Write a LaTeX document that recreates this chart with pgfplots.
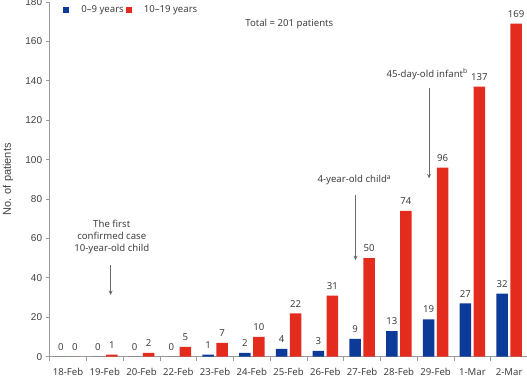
\documentclass[border=0pt]{standalone}
\usepackage{pgfplots}
\pgfplotsset{compat=1.18}
\usepackage{fontspec}
\setmainfont{Noto Sans}
\newfontfamily\arialfont{Liberation Sans}
\usetikzlibrary{arrows.meta}

\definecolor{barblue}{HTML}{0B3A99}
\definecolor{barred}{HTML}{E32B1E}
\definecolor{axisgray}{HTML}{9A9A9A}
\definecolor{textgray}{HTML}{404040}
\definecolor{arrowgray}{HTML}{6A6A6A}

\newcommand{\lblfont}{\fontsize{9.6bp}{11.5bp}\selectfont}

\begin{document}
\begin{tikzpicture}
\begin{axis}[
  scale only axis,
  width=478bp, height=354.7bp,
  xmin=-0.5, xmax=12.5,
  ymin=0, ymax=180,
  axis x line*=bottom,
  axis y line*=left,
  axis line style={draw=axisgray, line width=0.9bp},
  tick align=outside,
  major tick length=4bp,
  minor tick length=4bp,
  every tick/.style={draw=axisgray, line width=0.8bp},
  xtick={0,...,12},
  xticklabels={18-Feb,19-Feb,20-Feb,22-Feb,23-Feb,24-Feb,25-Feb,26-Feb,27-Feb,28-Feb,29-Feb,1-Mar,2-Mar},
  major x tick style={draw=none},
  minor xtick={-0.5,0.5,...,12.5},
  ytick={0,20,...,180},
  xticklabel style={font=\lblfont, text=textgray, yshift=-4bp},
  yticklabel style={font=\arialfont\fontsize{10bp}{12bp}\selectfont, text=textgray},
  /pgf/number format/assume math mode=true,
  ylabel={No. of patients},
  ylabel style={font=\arialfont\fontsize{11bp}{13bp}\selectfont, text=textgray,
    at={(axis description cs:-0.087,0.5)}, anchor=center},
  ybar=0pt,
  bar width=11.5bp,
  nodes near coords,
  every node near coord/.append style={font=\lblfont, text=textgray,
    anchor=south, inner sep=0pt, yshift=6bp},
  legend columns=2,
  legend style={draw=none, fill=none, font=\lblfont, text=textgray,
    at={(axis description cs:0.022,0.977)}, anchor=west,
    /tikz/every odd column/.append style={column sep=10bp}},
  legend image code/.code={\path[#1] (0bp,-3bp) rectangle (6bp,3bp);},
]

% 0-9 years
\addplot[fill=barblue, draw=none, bar shift=-7bp] coordinates {
  (0,0) (1,0) (2,0) (3,0) (4,1) (5,2) (6,4) (7,3) (8,9) (9,13) (10,19) (11,27) (12,32)
};
\addlegendentry{0–9 years}

% 10-19 years
\addplot[fill=barred, draw=none, bar shift=7bp] coordinates {
  (0,0) (1,1) (2,2) (3,5) (4,7) (5,10) (6,22) (7,31) (8,50) (9,74) (10,96) (11,137) (12,169)
};
\addlegendentry{10–19 years}

\node[font=\lblfont, text=textgray] at (axis cs:6.02,168.8) {Total = 201 patients};

\node[font=\lblfont, text=textgray, align=center, inner sep=0pt]
  at (axis cs:1.19,60.7) {The first\\[0.5bp]confirmed case\\[0.5bp]10-year-old child};
\node[font=\lblfont, text=textgray] at (axis cs:7.79,89.6) {4-year-old child\textsuperscript{a}};
\node[font=\lblfont, text=textgray] at (axis cs:9.77,143.5) {45-day-old infant\textsuperscript{b}};

\draw[arrowgray, line width=0.7bp, -{Stealth[length=4.5bp,width=4bp]}]
  (axis cs:1.16,46.5) -- (axis cs:1.16,31.3);
\draw[arrowgray, line width=0.7bp, -{Stealth[length=4.5bp,width=4bp]}]
  (axis cs:7.82,82) -- (axis cs:7.82,49);
\draw[arrowgray, line width=0.7bp, -{Stealth[length=4.5bp,width=4bp]}]
  (axis cs:9.82,136.2) -- (axis cs:9.82,90.5);
\end{axis}
\pgfresetboundingbox
\useasboundingbox (-49.6bp,-22.3bp) rectangle (477.4bp,356.7bp);
\end{tikzpicture}
\end{document}
